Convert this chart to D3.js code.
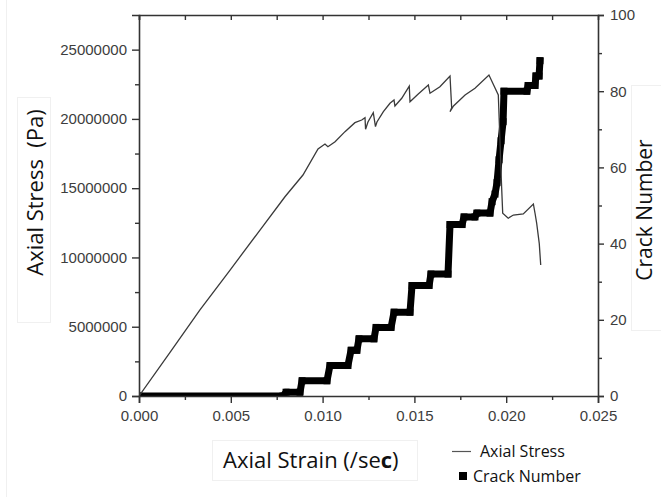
<!DOCTYPE html>
<html><head><meta charset="utf-8">
<script src="https://cdn.jsdelivr.net/npm/d3@7"></script>
<style>body{margin:0;background:#fff;} svg{display:block}</style>
</head><body>
<svg id="c" width="661" height="497"></svg>
<script>
// ---- data ----
const stressStrain = [0, 0.00169, 0.00332, 0.00496, 0.00659, 0.00795, 0.00893, 0.00975, 0.01013, 0.01029, 0.01068, 0.01122, 0.01176, 0.01213, 0.01231, 0.01234, 0.01247, 0.01276, 0.01288, 0.01296, 0.01331, 0.01367, 0.01389, 0.01394, 0.01431, 0.01472, 0.01476, 0.01521, 0.01576, 0.01585, 0.01639, 0.01694, 0.01703, 0.01694, 0.01713, 0.01776, 0.01830, 0.01906, 0.01957, 0.01975, 0.01981, 0.02011, 0.02039, 0.02093, 0.02148, 0.02157, 0.02166, 0.02180, 0.02188];
const stressPa = [0, 3.15e6, 6.21e6, 9.09e6, 11.98e6, 14.38e6, 15.95e6, 17.83e6, 18.19e6, 17.99e6, 18.35e6, 19.08e6, 19.73e6, 19.92e6, 20.09e6, 19.25e6, 19.78e6, 20.45e6, 19.44e6, 19.78e6, 20.52e6, 21.13e6, 21.36e6, 20.93e6, 21.49e6, 22.37e6, 21.24e6, 21.80e6, 22.45e6, 21.85e6, 22.32e6, 23.10e6, 20.80e6, 20.52e6, 20.93e6, 21.73e6, 22.21e6, 23.17e6, 21.73e6, 15.11e6, 13.19e6, 12.83e6, 13.06e6, 13.14e6, 13.86e6, 13.19e6, 12.47e6, 11.02e6, 9.45e6];

const crackStrain = [0, 0.00784, 0.00801, 0.00877, 0.00888, 0.01024, 0.01040, 0.01138, 0.01155, 0.01187, 0.01198, 0.01280, 0.01291, 0.01373, 0.01389, 0.01476, 0.01487, 0.01580, 0.01590, 0.01683, 0.01694, 0.01760, 0.01770, 0.01830, 0.01840, 0.01912, 0.01923, 0.01939, 0.01950, 0.01961, 0.01972, 0.01983, 0.01988, 0.02113, 0.02119, 0.02157, 0.02162, 0.02179, 0.02184];
const crackCount  = [0, 0, 1, 1, 4, 4, 8, 8, 12, 12, 15, 15, 18, 18, 22, 22, 29, 29, 32, 32, 45, 45, 47, 47, 48, 48, 51, 53, 56, 62, 67, 72, 80, 80, 81.5, 81.5, 84, 84, 88];

const xTicks = [0, 0.005, 0.010, 0.015, 0.020, 0.025];
const xMinor = [0.0025, 0.0075, 0.0125, 0.0175, 0.0225];
const xTopTicks = [0, 0.0025, 0.005, 0.0075, 0.010, 0.0125, 0.015, 0.0175, 0.020, 0.0225];
const yLeftTicks = [0, 5000000, 10000000, 15000000, 20000000, 25000000];
const yLeftMinor = [2500000, 7500000, 12500000, 17500000, 22500000];
const yRightTicks = [0, 20, 40, 60, 80, 100];
const yRightMinor = [10, 30, 50, 70, 90];
const legendLabels = ["Axial Stress", "Crack Number"];

// ---- layout ----
const svg = d3.select("#c");
const L = 139, R = 598, T = 15, B = 396;
const x = d3.scaleLinear().domain([0, 0.025]).range([L, R]);
const yL = d3.scaleLinear().domain([0, 27500000]).range([B, T]);
const yR = d3.scaleLinear().domain([0, 100]).range([B, T]);

const axisCol = "#333";
const textCol = "#3d3d3d";
const tickFont = "'Liberation Sans', Arial, sans-serif";
const titleFont = "'Open Sans', sans-serif";

// faint decorative boxes
const faint = svg.append("g").attr("fill", "none").attr("stroke", "#f0f0f0").attr("stroke-width", 1);
faint.append("line").attr("x1", 6.5).attr("x2", 6.5).attr("y1", 0).attr("y2", 497);
faint.append("rect").attr("x", 17.5).attr("y", 97.5).attr("width", 33).attr("height", 225);
faint.append("rect").attr("x", 631.5).attr("y", 85.5).attr("width", 40).attr("height", 245);
faint.append("rect").attr("x", 212.5).attr("y", 440.5).attr("width", 205).attr("height", 40);

// clip
svg.append("clipPath").attr("id", "clip").append("rect")
  .attr("x", L).attr("y", T).attr("width", R - L).attr("height", B - T);

// crack number (thick square markers)
const crackPts = crackStrain.map((s, i) => [s, crackCount[i]]);
const gData = svg.append("g").attr("clip-path", "url(#clip)");
gData.append("path")
  .attr("d", d3.line().x(d => x(d[0])).y(d => yR(d[1]))(crackPts))
  .attr("fill", "none").attr("stroke", "#000").attr("stroke-width", 7)
  .attr("stroke-linejoin", "miter").attr("stroke-linecap", "square");
gData.selectAll("rect.m").data(crackPts).join("rect").attr("class", "m")
  .attr("x", d => x(d[0]) - 3.5).attr("y", d => yR(d[1]) - 3.5)
  .attr("width", 7).attr("height", 7).attr("fill", "#000");

// axial stress line
const stressPts = stressStrain.map((s, i) => [s, stressPa[i]]);
gData.append("path")
  .attr("d", d3.line().x(d => x(d[0])).y(d => yL(d[1]))(stressPts))
  .attr("fill", "none").attr("stroke", "#3a3a3a").attr("stroke-width", 1.3)
  .attr("stroke-linejoin", "miter");

// axes
function styleAxis(g) {
  g.select(".domain").attr("stroke", axisCol).attr("stroke-width", 1.6);
  g.selectAll(".tick line").attr("stroke", axisCol).attr("stroke-width", 1.4);
  g.selectAll(".tick text").attr("fill", textCol).style("font-family", tickFont).style("font-size", "15px");
}
// bottom
const gb = svg.append("g").attr("transform", `translate(0,${B})`)
  .call(d3.axisBottom(x).tickValues(xTicks).tickFormat(d3.format(".3f")).tickSizeOuter(0).tickSize(7).tickPadding(7));
styleAxis(gb);
const gbm = svg.append("g").attr("transform", `translate(0,${B})`)
  .call(d3.axisBottom(x).tickValues(xMinor).tickFormat("").tickSizeOuter(0).tickSize(4));
styleAxis(gbm); gbm.select(".domain").remove();
// top
const gt = svg.append("g").attr("transform", `translate(0,${T})`)
  .call(d3.axisTop(x).tickValues(xTopTicks).tickFormat("").tickSizeOuter(0).tickSize(-5));
styleAxis(gt);
// left
const gl = svg.append("g").attr("transform", `translate(${L},0)`)
  .call(d3.axisLeft(yL).tickValues(yLeftTicks).tickFormat(d3.format("d")).tickSizeOuter(0).tickSize(7).tickPadding(5));
styleAxis(gl);
const glm = svg.append("g").attr("transform", `translate(${L},0)`)
  .call(d3.axisLeft(yL).tickValues(yLeftMinor).tickFormat("").tickSizeOuter(0).tickSize(4));
styleAxis(glm); glm.select(".domain").remove();
// right
const gr = svg.append("g").attr("transform", `translate(${R},0)`)
  .call(d3.axisRight(yR).tickValues(yRightTicks).tickFormat(d3.format("d")).tickSizeOuter(0).tickSize(6).tickPadding(6));
styleAxis(gr);
const grm = svg.append("g").attr("transform", `translate(${R},0)`)
  .call(d3.axisRight(yR).tickValues(yRightMinor).tickFormat("").tickSizeOuter(0).tickSize(4));
styleAxis(grm); grm.select(".domain").remove();

// titles
svg.append("text").attr("transform", "translate(43,192.5) rotate(-90)")
  .attr("text-anchor", "middle").attr("fill", "#111")
  .style("font-family", titleFont).style("font-size", "22px")
  .style("white-space", "pre").text("Axial Stress  (Pa)");
svg.append("text").attr("transform", "translate(652,210) rotate(-90)")
  .attr("text-anchor", "middle").attr("fill", "#111")
  .style("font-family", titleFont).style("font-size", "21px")
  .text("Crack Number");
const xt = svg.append("text").attr("x", 223).attr("y", 468).attr("fill", "#111")
  .style("font-family", titleFont).style("font-size", "22px");
xt.append("tspan").text("Axial Strain (/se");
xt.append("tspan").style("font-weight", "bold").text("c");
xt.append("tspan").text(")");

// legend
const lg = svg.append("g");
lg.append("line").attr("x1", 452).attr("x2", 471).attr("y1", 451.5).attr("y2", 451.5)
  .attr("stroke", "#555").attr("stroke-width", 1.2);
lg.append("rect").attr("x", 459).attr("y", 472).attr("width", 8).attr("height", 8).attr("fill", "#000");
lg.append("text").attr("x", 480).attr("y", 457).attr("fill", "#111")
  .style("font-family", titleFont).style("font-size", "16px").text(legendLabels[0]);
lg.append("text").attr("x", 473).attr("y", 482).attr("fill", "#111")
  .style("font-family", titleFont).style("font-size", "16px").text(legendLabels[1]);
</script>
</body></html>
